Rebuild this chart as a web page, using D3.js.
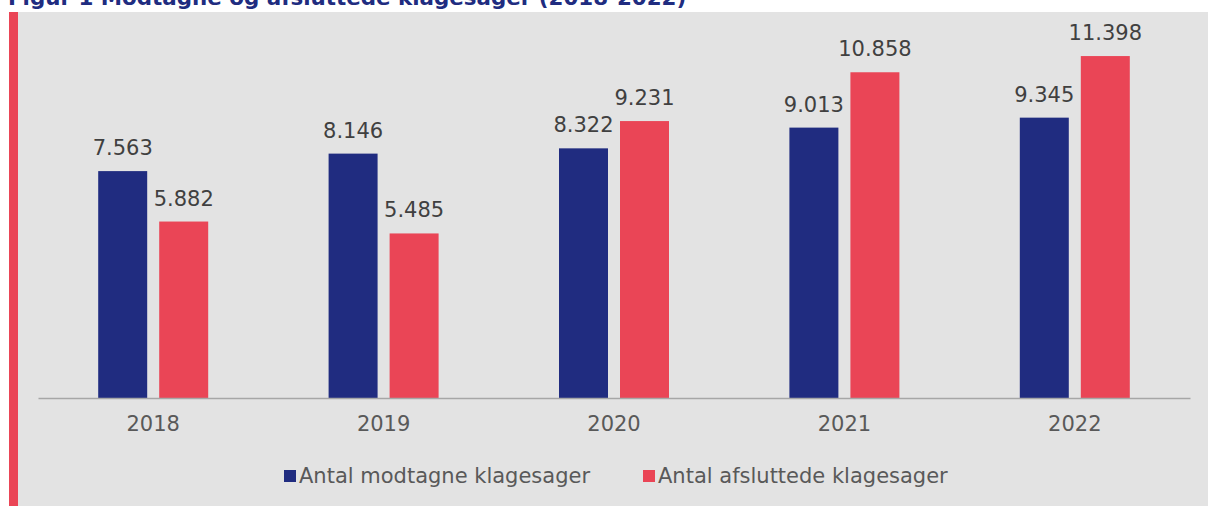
<!DOCTYPE html>
<html>
<head>
<meta charset="utf-8">
<script src="https://cdn.jsdelivr.net/npm/d3@7"></script>
<style>
  body { margin: 0; background: #fff; }
  svg { display: block; font-family: "DejaVu Sans", Verdana, sans-serif; }
</style>
</head>
<body>
<div id="chart"></div>
<script>
// data
var years = ["2018", "2019", "2020", "2021", "2022"];
var seriesNames = ["Antal modtagne klagesager", "Antal afsluttede klagesager"];
var receivedCases = [7563, 8146, 8322, 9013, 9345];
var closedCases = [5882, 5485, 9231, 10858, 11398];
var seriesColors = ["#202c80", "#ea4556"];
var title = "Figur 1 Modtagne og afsluttede klagesager (2018-2022)";

var width = 1208, height = 506;

var svg = d3.select("#chart").append("svg")
    .attr("width", width)
    .attr("height", height);

// grey panel + red accent strip
svg.append("rect")
    .attr("x", 18).attr("y", 12)
    .attr("width", width - 18).attr("height", height - 12)
    .attr("fill", "#e3e3e3");
svg.append("rect")
    .attr("x", 9).attr("y", 12)
    .attr("width", 9).attr("height", height - 12)
    .attr("fill", "#ea4556");

// title (cut off at top, as in the source)
svg.append("text")
    .attr("x", 8).attr("y", 5)
    .attr("font-size", "21.4px")
    .attr("font-weight", "bold")
    .attr("fill", "#202c80")
    .text(title);

// flatten into one row per bar
var bars = [];
years.forEach(function(yr, i) {
    bars.push({year: yr, s: "a", value: receivedCases[i], color: seriesColors[0]});
    bars.push({year: yr, s: "b", value: closedCases[i], color: seriesColors[1]});
});

var x0 = d3.scaleBand()
    .domain(years)
    .range([38, 1190]);

var x1 = d3.scaleBand()
    .domain(["a", "b"])
    .range([-55, 55])
    .paddingInner(0.197);

var y = d3.scaleLinear()
    .domain([0, 12000])
    .range([398, 38]);

var fmt = d3.formatLocale({decimal: ",", thousands: ".", grouping: [3], currency: ["", ""]}).format(",");

function barX(d) {
    return x0(d.year) + x0.bandwidth() / 2 + x1(d.s);
}

svg.selectAll(".bar")
    .data(bars)
    .enter().append("rect")
    .attr("class", "bar")
    .attr("x", barX)
    .attr("width", x1.bandwidth())
    .attr("y", function(d) { return y(d.value); })
    .attr("height", function(d) { return y(0) - y(d.value); })
    .attr("fill", function(d) { return d.color; });

svg.selectAll(".val")
    .data(bars)
    .enter().append("text")
    .attr("class", "val")
    .attr("x", function(d) { return barX(d) + x1.bandwidth() / 2; })
    .attr("y", function(d) { return y(d.value) - 16; })
    .attr("text-anchor", "middle")
    .attr("font-size", "21px")
    .attr("fill", "#404040")
    .text(function(d) { return fmt(d.value); });

// x axis
var axis = svg.append("g")
    .attr("transform", "translate(0," + y(0) + ")")
    .call(d3.axisBottom(x0).tickSize(0).tickPadding(18));
axis.select(".domain").attr("stroke", "#a6a6a6").attr("stroke-width", 1.5);
axis.selectAll("text")
    .attr("font-family", "DejaVu Sans, Verdana, sans-serif")
    .attr("font-size", "21px")
    .attr("fill", "#595959");

// legend
var legendX = [284, 643];
var legend = svg.selectAll(".leg")
    .data(seriesNames)
    .enter().append("g")
    .attr("class", "leg")
    .attr("transform", function(d, i) { return "translate(" + legendX[i] + ",470)"; });
legend.append("rect")
    .attr("width", 12).attr("height", 12)
    .attr("fill", function(d, i) { return seriesColors[i]; });
legend.append("text")
    .attr("x", 15).attr("y", 13)
    .attr("font-size", "21px")
    .attr("fill", "#595959")
    .text(function(d) { return d; });
</script>
</body>
</html>
